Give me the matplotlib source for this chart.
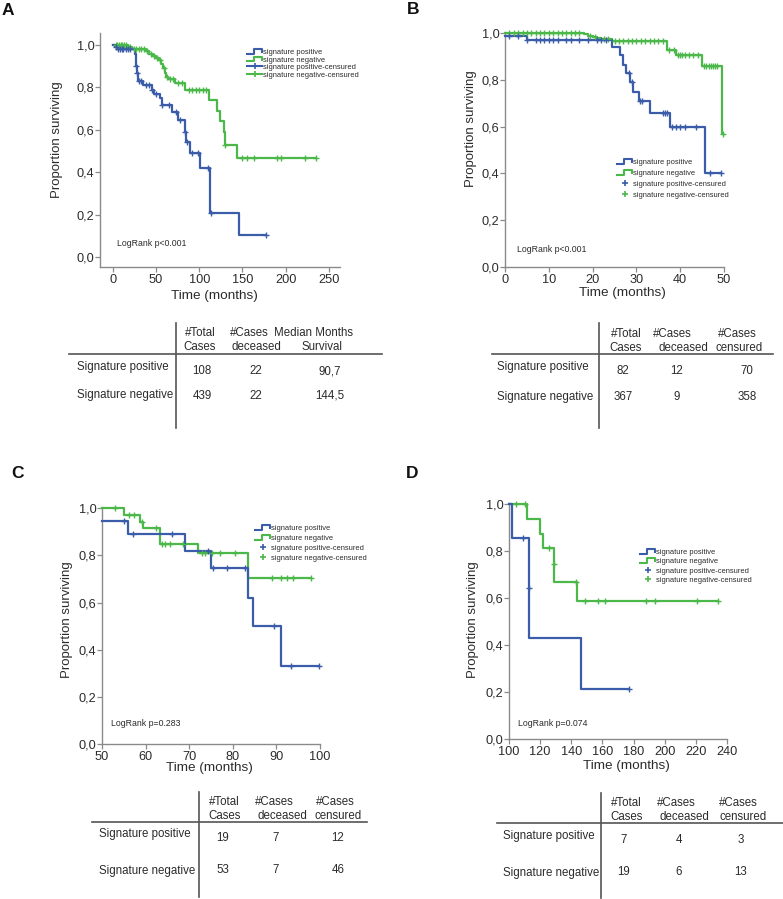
import numpy as np
import matplotlib
matplotlib.use("Agg")
import matplotlib.pyplot as plt
from matplotlib.lines import Line2D
from matplotlib.legend_handler import HandlerBase
from matplotlib.transforms import Affine2D

plt.rcParams['font.family'] = ['Liberation Sans', 'DejaVu Sans']

# ---------------- data ----------------
# Panel A
A_pos_t = [0, 2, 5, 25.5, 26.3, 27, 27.8, 28.6, 29.3, 35, 45, 48, 54, 57, 68, 75, 83, 85, 89, 101, 112, 146, 177]
A_pos_s = [1.0, 0.99, 0.98, 0.96, 0.93, 0.90, 0.87, 0.85, 0.83, 0.81, 0.79, 0.77, 0.75, 0.717, 0.685, 0.645, 0.59, 0.545, 0.49, 0.42, 0.21, 0.105, 0.105]
A_pos_c = [3, 6, 8, 10, 12, 15, 18, 20, 27, 28, 30, 33, 38, 42, 45, 50, 57, 65, 73, 78, 84, 86, 91, 98, 110, 113, 177]
A_neg_t = [0, 17, 22, 38, 42, 46, 50, 53, 56, 58, 60, 62, 64, 72, 84, 111, 120, 124, 129, 130, 144, 235]
A_neg_s = [1.0, 0.99, 0.98, 0.97, 0.96, 0.95, 0.94, 0.93, 0.91, 0.89, 0.87, 0.85, 0.84, 0.82, 0.79, 0.74, 0.69, 0.64, 0.59, 0.53, 0.465, 0.465]
A_neg_c = [3, 5, 7, 9, 11, 13, 15, 18, 20, 24, 27, 30, 33, 36, 40, 44, 48, 51, 55, 59, 63, 66, 70, 75, 80, 88, 92,
           96, 100, 104, 108, 130, 150, 155, 163, 190, 195, 222, 235]

# Panel B
B_pos_t = [0, 5, 24.5, 26.2, 27, 27.6, 28.6, 29.3, 30.5, 33.2, 37.6, 45.7, 49.3]
B_pos_s = [0.99, 0.97, 0.94, 0.905, 0.865, 0.83, 0.79, 0.75, 0.71, 0.66, 0.60, 0.40, 0.40]
B_pos_c = [1, 3, 5, 7, 8, 9, 10, 11, 12, 14, 15, 17, 19, 21, 22, 23, 28.2, 28.9, 30.8, 31.3,
           36, 36.5, 37, 38.2, 39, 40, 41, 43.5, 46.8, 49.3]
B_neg_t = [0, 18, 19, 20, 21, 22, 24.5, 37, 39, 45, 49.5, 49.8]
B_neg_s = [1.0, 0.995, 0.99, 0.985, 0.98, 0.975, 0.965, 0.93, 0.905, 0.86, 0.57, 0.57]
B_neg_c = [1, 2, 3, 4, 5, 6, 7, 8, 9, 10, 11, 12, 13, 14, 15, 16, 17, 19.5, 20.5, 22.5, 23.5,
           25, 26, 27, 28, 29, 30, 31, 32, 33, 34, 35, 36, 37.5, 38.5, 39.5, 40, 40.5, 41, 42, 43,
           44, 45.5, 46, 46.5, 47, 47.5, 48, 48.5, 49.8]

# Panel C
C_pos_t = [50, 56, 69, 75, 83.6, 84.6, 91, 99.7]
C_pos_s = [0.945, 0.89, 0.82, 0.745, 0.62, 0.50, 0.33, 0.33]
C_pos_c = [55, 57.2, 66, 74.3, 75.4, 78.6, 82.8, 89.5, 93.3, 99.7]
C_neg_t = [50, 55, 58.8, 59.4, 63.2, 72.1, 83.4, 98]
C_neg_s = [1.0, 0.97, 0.94, 0.915, 0.85, 0.81, 0.705, 0.705]
C_neg_c = [53, 56.1, 57.4, 59.2, 62.4, 63.7, 64.5, 65.6, 68.5, 72.9, 73.7, 75.3, 77.1, 80.4,
           88.9, 91.1, 92.5, 93.9, 98]

# Panel D
D_pos_t = [100, 102, 112.8, 113, 146, 177]
D_pos_s = [1.0, 0.857, 0.643, 0.43, 0.214, 0.214]
D_pos_c = [109, 112.8, 177]
D_neg_t = [100, 111.6, 119.7, 121.8, 128.7, 129, 143.9, 234.2]
D_neg_s = [1.0, 0.938, 0.874, 0.813, 0.746, 0.67, 0.586, 0.586]
D_neg_c = [104.7, 110, 125.5, 128.7, 142.8, 149, 157, 161.4, 188, 194, 221, 234.2]

# Tables
row_labels = ["Signature positive", "Signature negative"]
tabA_head = [("#Total", "Cases"), ("#Cases", "deceased"), ("Median Months", "Survival")]
tabA_vals = [["108", "22", "90,7"], ["439", "22", "144,5"]]
tabB_head = [("#Total", "Cases"), ("#Cases", "deceased"), ("#Cases", "censured")]
tabB_vals = [["82", "12", "70"], ["367", "9", "358"]]
tabC_head = [("#Total", "Cases"), ("#Cases", "deceased"), ("#Cases", "censured")]
tabC_vals = [["19", "7", "12"], ["53", "7", "46"]]
tabD_head = [("#Total", "Cases"), ("#Cases", "deceased"), ("#Cases", "censured")]
tabD_vals = [["7", "4", "3"], ["19", "6", "13"]]

legend_labels = ["signature positive", "signature negative",
                 "signature positive-censured", "signature negative-censured"]
pvals = ["LogRank p<0.001", "LogRank p<0.001", "LogRank p=0.283", "LogRank p=0.074"]

# ---------------- style ----------------
W, H = 783, 899
BLUE = '#3b5ca9'
GREEN = '#4cb84a'
SPINE = '#8a8a8a'
TXT = '#2b2b2b'

fig = plt.figure(figsize=(W / 100, H / 100), dpi=100)
PX = Affine2D().scale(1 / W, -1 / H).translate(0, 1) + fig.transFigure


def axes_px(l, t, r, b):
    return fig.add_axes([l / W, 1 - b / H, (r - l) / W, (b - t) / H])


class StepIcon:
    def __init__(self, color):
        self.color = color


class StepHandler(HandlerBase):
    def create_artists(self, legend, orig_handle, xdescent, ydescent, width, height, fontsize, trans):
        x0, y0 = -xdescent, -ydescent
        xs = [x0, x0 + 0.45 * width, x0 + 0.45 * width, x0 + width, x0 + width]
        ys = [y0 + 0.1 * height, y0 + 0.1 * height, y0 + 0.9 * height, y0 + 0.9 * height, y0 + 0.4 * height]
        return [Line2D(xs, ys, color=orig_handle.color, lw=1.5, transform=trans)]


def surv_at(t, s, c):
    idx = np.searchsorted(np.asarray(t), np.asarray(c), side='right') - 1
    return np.asarray(s)[idx]


def km_panel(ax, pos, neg, xlim, ylim, xticks):
    for (t, s, c), col in ((neg, GREEN), (pos, BLUE)):
        ax.step(t, s, where='post', color=col, lw=1.6, clip_on=False, zorder=3)
        ax.plot(c, surv_at(t, s, c), ls='none', marker='+', ms=4, mew=1.0, color=col,
                clip_on=False, zorder=4)
    ax.set_xlim(*xlim)
    ax.set_ylim(*ylim)
    ax.set_xticks(xticks)
    ax.set_yticks(np.arange(0, 1.01, 0.2))
    ax.set_yticklabels([f"{v:.1f}".replace('.', ',') for v in np.arange(0, 1.01, 0.2)])
    for sp in ('top', 'right'):
        ax.spines[sp].set_visible(False)
    for sp in ('left', 'bottom'):
        ax.spines[sp].set_color(SPINE)
        ax.spines[sp].set_linewidth(1.0)
    ax.tick_params(axis='both', length=3.5, width=0.9, color=SPINE, labelsize=9.2, labelcolor=TXT)
    ax.tick_params(axis='y', pad=0.5)
    ax.tick_params(axis='x', pad=1.2)
    ax.set_xlabel("Time (months)", fontsize=9.7, color=TXT)
    ax.set_ylabel("Proportion surviving", fontsize=9.5, color=TXT)
    ax.patch.set_alpha(0)


def add_legend(ax, x, y, spacing, censored_line):
    handles = [StepIcon(BLUE), StepIcon(GREEN),
               Line2D([], [], color=BLUE, marker='+', ms=5, mew=1.2,
                      ls='-' if censored_line else 'none', lw=1.5),
               Line2D([], [], color=GREEN, marker='+', ms=5, mew=1.2,
                      ls='-' if censored_line else 'none', lw=1.5)]
    ax.legend(handles, legend_labels, handler_map={StepIcon: StepHandler()},
              loc='upper left', bbox_to_anchor=(x, y), bbox_transform=PX,
              frameon=False, fontsize=5.4, handlelength=2.0, handleheight=0.8,
              handletextpad=0.15, labelspacing=spacing, borderpad=0, borderaxespad=0,
              labelcolor=TXT)


def table(left_lbl, vline_x, vline_y, hline_y, hline_x, head_x, head_y, val_x, row_y, val_y, heads, vals):
    fig.add_artist(Line2D([vline_x, vline_x], vline_y, color='#555555', lw=1.2, transform=PX))
    fig.add_artist(Line2D(hline_x, [hline_y, hline_y], color='#555555', lw=1.2, transform=PX))
    for (h1, h2), (x1, x2) in zip(heads, head_x):
        fig.text(x1, head_y[0], h1, transform=PX, ha='center', va='center', fontsize=8.3, color=TXT)
        fig.text(x2, head_y[1], h2, transform=PX, ha='center', va='center', fontsize=8.3, color=TXT)
    for lbl, ry in zip(row_labels, row_y):
        fig.text(left_lbl, ry, lbl, transform=PX, ha='left', va='center', fontsize=8.3, color=TXT)
    for row, vy in zip(vals, val_y):
        for v, vx in zip(row, val_x):
            fig.text(vx, vy, v, transform=PX, ha='center', va='center', fontsize=8.3, color=TXT)


# ---------------- Panel A ----------------
axA = axes_px(100, 33, 340, 267)
km_panel(axA, (A_pos_t, A_pos_s, A_pos_c), (A_neg_t, A_neg_s, A_neg_c), (-15, 263), (-0.047, 1.057),
         np.arange(0, 251, 50))
axA.xaxis.set_label_coords(0.475, -0.1)
axA.yaxis.set_label_coords(-0.154, 0.545)
add_legend(axA, 247, 48.5, 0.02, True)
fig.text(117, 243, pvals[0], transform=PX, ha='left', va='center', fontsize=6.3, color=TXT)

# ---------------- Panel B ----------------
axB = axes_px(505, 32, 724, 267)
km_panel(axB, (B_pos_t, B_pos_s, B_pos_c), (B_neg_t, B_neg_s, B_neg_c), (0, 50), (0, 1.005),
         np.arange(0, 51, 10))
axB.xaxis.set_label_coords(0.534, -0.085)
axB.yaxis.set_label_coords(-0.128, 0.588)
add_legend(axB, 617, 158.5, 0.45, False)
fig.text(517, 249, pvals[1], transform=PX, ha='left', va='center', fontsize=6.3, color=TXT)

# ---------------- Panel C ----------------
axC = axes_px(102, 507, 320, 744)
km_panel(axC, (C_pos_t, C_pos_s, C_pos_c), (C_neg_t, C_neg_s, C_neg_c), (50, 100), (0, 1.005),
         np.arange(50, 101, 10))
axC.xaxis.set_label_coords(0.495, -0.078)
axC.yaxis.set_label_coords(-0.133, 0.525)
add_legend(axC, 255, 524.5, 0.33, False)
fig.text(111, 724, pvals[2], transform=PX, ha='left', va='center', fontsize=6.3, color=TXT)

# ---------------- Panel D ----------------
axD = axes_px(509, 503, 727, 739)
km_panel(axD, (D_pos_t, D_pos_s, D_pos_c), (D_neg_t, D_neg_s, D_neg_c), (100, 240), (0, 1.005),
         np.arange(100, 241, 20))
axD.xaxis.set_label_coords(0.54, -0.087)
axD.yaxis.set_label_coords(-0.138, 0.506)
add_legend(axD, 640, 548.5, 0.25, False)
fig.text(518, 724, pvals[3], transform=PX, ha='left', va='center', fontsize=6.3, color=TXT)

# ---------------- Panel letters ----------------
for lbl, x, y in (("A", 2, 3), ("B", 407, 2), ("C", 11, 466), ("D", 406, 466)):
    fig.text(x, y, lbl, transform=PX, ha='left', va='top', fontsize=12.5, fontweight='bold', color='#111111')

# ---------------- Tables ----------------
table(77, 176, [323, 428], 354, [69, 382],
      [(200, 200), (249, 256), (314, 322)], (333, 347),
      [202, 256, 330], (367, 395), (371, 396), tabA_head, tabA_vals)
table(497, 599, [323, 428], 354, [492, 773],
      [(626, 626), (672, 683), (737, 739)], (334, 348),
      [623, 677, 747], (367, 397), (371, 397), tabB_head, tabB_vals)
table(99, 199, [792, 897], 822, [92, 367],
      [(224, 225), (274, 282), (335, 338)], (802, 816),
      [223, 276, 338], (834, 871), (838, 870), tabC_head, tabC_vals)
table(503, 601, [793, 898], 823, [497, 783],
      [(626, 627), (676, 684), (738, 743)], (803, 817),
      [624, 679, 741], (836, 873), (840, 872), tabD_head, tabD_vals)

fig.savefig("out.png", dpi=100)
